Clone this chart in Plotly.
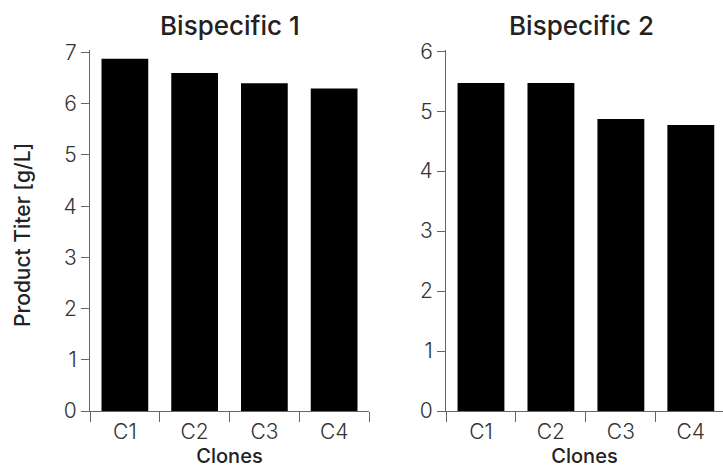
import plotly.graph_objects as go

categories = ["C1", "C2", "C3", "C4"]
bispecific1 = [6.88, 6.6, 6.4, 6.3]
bispecific2 = [5.47, 5.47, 4.87, 4.77]
titles = ["Bispecific 1", "Bispecific 2"]
y_title = "Product Titer [g/L]"
x_title = "Clones"

W, H = 723, 469
T, B = 50, 58
FONT = "Inter, 'Open Sans', sans-serif"
TXT = "#333333"
AX = "#666666"

fig = go.Figure()
fig.add_trace(go.Bar(x=categories, y=bispecific1, marker=dict(color="#000000", line=dict(width=0)),
                     xaxis="x", yaxis="y", showlegend=False))
fig.add_trace(go.Bar(x=categories, y=bispecific2, marker=dict(color="#000000", line=dict(width=0)),
                     xaxis="x2", yaxis="y2", showlegend=False))

common_x = dict(type="category", showline=True, linecolor=AX, linewidth=1, ticks="outside",
                tickson="boundaries", ticklen=10, tickcolor=AX, tickwidth=1,
                showgrid=False, zeroline=False, ticklabelstandoff=2,
                tickfont=dict(family=FONT, size=21, color=TXT, weight=300))
common_y = dict(showline=True, linecolor=AX, linewidth=1, ticks="outside", ticklen=8,
                tickcolor=AX, tickwidth=1, showgrid=False, zeroline=False, dtick=1,
                tickfont=dict(family=FONT, size=21, color=TXT, weight=300))

xt = dict(family=FONT, size=20, color="#222222", weight=500)
ph = H - T - B

fig.update_layout(
    width=W, height=H,
    margin=dict(l=0, r=0, t=T, b=B),
    paper_bgcolor="white", plot_bgcolor="white",
    bargap=0.33,
    xaxis=dict(domain=[90 / W, 369 / W], range=[-0.5, 3.5], anchor="y",
               title=dict(text=x_title, font=xt, standoff=0), **common_x),
    yaxis=dict(domain=[0, 1], range=[0, 7.05], anchor="x", **common_y),
    xaxis2=dict(domain=[446 / W, 1], range=[-0.5, 3.46], anchor="y2",
                title=dict(text=x_title, font=xt, standoff=0), **common_x),
    yaxis2=dict(domain=[0, 1], range=[0, 6.02], anchor="x2", **common_y),
    annotations=[
        dict(text=titles[0], x=(90 + 369) / 2 / W, y=1, xref="paper", yref="paper",
             xanchor="center", yanchor="bottom", yshift=7, showarrow=False,
             font=dict(family=FONT, size=26, color="#222222", weight=500)),
        dict(text=titles[1], x=581 / W, y=1, xref="paper", yref="paper",
             xanchor="center", yanchor="bottom", yshift=7, showarrow=False,
             font=dict(family=FONT, size=26, color="#222222", weight=500)),
        dict(text=y_title, x=22 / W, y=(H - B - 235) / ph, xref="paper", yref="paper",
             xanchor="center", yanchor="middle", textangle=-90, showarrow=False,
             font=dict(family=FONT, size=21, color="#222222", weight=500)),
    ],
)

fig.write_html("out.html")
